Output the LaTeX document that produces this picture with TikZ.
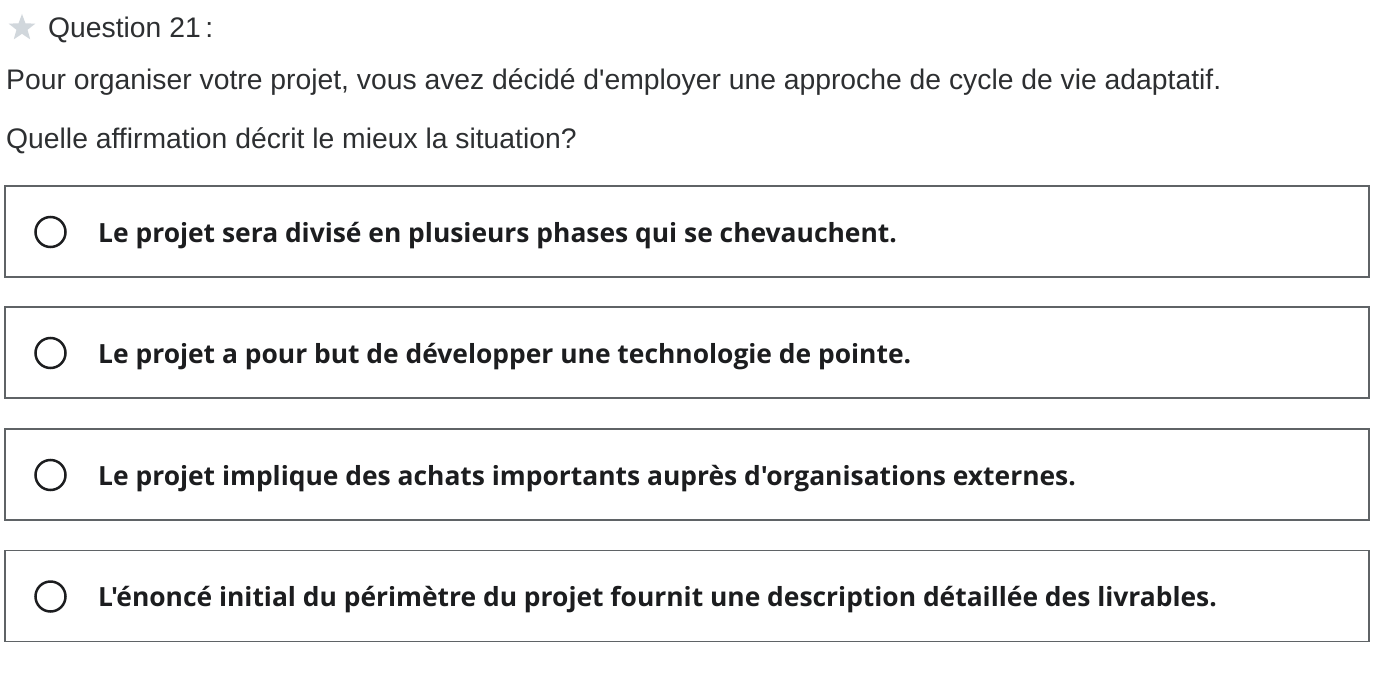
\documentclass[tikz,border=0pt]{standalone}
\usepackage{fontspec}
\newfontfamily\headfont{Liberation Sans}
\newfontfamily\optfont{Open Sans}
\usetikzlibrary{shapes.geometric}
\definecolor{txtcol}{HTML}{2D2F31}
\definecolor{optcol}{HTML}{1C1D1F}
\definecolor{boxcol}{HTML}{5F6366}
\definecolor{starcol}{HTML}{D1D7DC}
\tikzset{
  head/.style={anchor=base west,inner sep=0pt,text=txtcol,font=\headfont\fontsize{28.3bp}{32bp}\selectfont},
  optbox/.style={draw=boxcol,line width=1.5bp,minimum width=1364bp,minimum height=91bp,inner sep=0pt},
  radio/.style={circle,draw=optcol,line width=2.5bp,minimum size=30bp,inner sep=0pt},
  opttext/.style={anchor=base west,inner sep=0pt,text=optcol,font=\optfont\bfseries\fontsize{26.4bp}{30bp}\selectfont},
}
\begin{document}
\begin{tikzpicture}[x=1bp,y=-1bp]
  \useasboundingbox[fill=white] (0,0) rectangle (1387,675);
%%
  % Node: star
  \node[star,star points=5,star point ratio=2.4,fill=starcol,minimum size=28bp,inner sep=0pt] (star) at (22,28) {};
  % Node: title
  \node[head] (title) at (48,38) {Question 21\,:};
  % Node: intro
  \node[head] (intro) at (6,90) {Pour organiser votre projet, vous avez décidé d'employer une approche de cycle de vie adaptatif.};
  % Node: ask
  \node[head] (ask) at (6,148) {Quelle affirmation décrit le mieux la situation?};
%
  % Node: opt1
  \node[optbox] (opt1) at (687,231.5) {};
  \node[radio] (radio1) at (50.5,232) {};
  \node[opttext] (text1) at (98,242) {Le projet sera divisé en plusieurs phases qui se chevauchent.};
  % Node: opt2
  \node[optbox] (opt2) at (687,352.5) {};
  \node[radio] (radio2) at (50.5,353) {};
  \node[opttext] (text2) at (98,363) {Le projet a pour but de développer une technologie de pointe.};
  % Node: opt3
  \node[optbox] (opt3) at (687,474.5) {};
  \node[radio] (radio3) at (50.5,475) {};
  \node[opttext] (text3) at (98,485) {Le projet implique des achats importants auprès d'organisations externes.};
  % Node: opt4
  \node[optbox] (opt4) at (687,596) {};
  \node[radio] (radio4) at (50.5,596.5) {};
  \node[opttext] (text4) at (98,606.5) {L'énoncé initial du périmètre du projet fournit une description détaillée des livrables.};
%
\end{tikzpicture}
\end{document}
